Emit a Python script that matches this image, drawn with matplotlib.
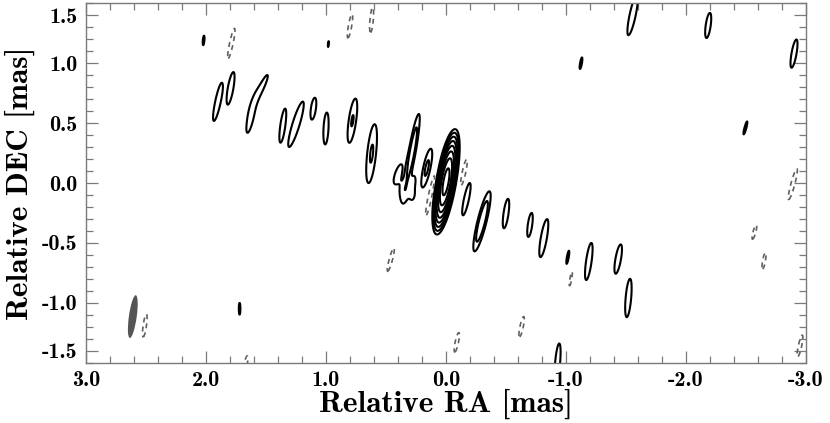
import numpy as np
import matplotlib
matplotlib.use("Agg")
import matplotlib.pyplot as plt
from matplotlib.patches import Ellipse

# clean components: RA [mas], DEC [mas], peak (in units of lowest contour),
# major / minor FWHM [mas], position angle [deg, N through E]
comp_ra = [2.02, 1.90, 1.795, 1.535, 1.625, 1.36, 1.25, 1.105, 1.00, 0.98,
           0.78, 0.62, 0.28, 0.27, 0.40, 0.36, 0.28, 0.16, 0.00, -0.17,
           -0.30, -0.50, -0.70, -0.815, -1.015, -1.19, -1.435, -1.52, -0.93,
           -1.555, -2.185, -1.125, -2.90, -2.495, 1.72]
comp_dec = [1.19, 0.68, 0.79, 0.80, 0.56, 0.48, 0.49, 0.62, 0.455, 1.16,
            0.52, 0.245, 0.27, 0.02, 0.08, -0.08, -0.08, 0.125, 0.01, -0.135,
            -0.32, -0.255, -0.35, -0.46, -0.62, -0.655, -0.635, -0.96, -1.50,
            1.40, 1.315, 1.00, 1.08, 0.46, -1.05]
comp_peak = [1.15, 1.8, 1.8, 1.6, 1.6, 1.8, 1.8, 1.8, 1.8, 1.08,
             2.1, 2.15, 3.2, 1.0, 1.3, 1.25, 1.2, 2.3, 180.0, 1.8,
             3.6, 1.8, 1.8, 1.8, 1.15, 1.8, 1.8, 1.8, 1.8,
             1.8, 1.8, 1.15, 1.8, 1.15, 1.15]
comp_maj = [0.18, 0.36, 0.30, 0.27, 0.35, 0.31, 0.43, 0.20, 0.29, 0.15,
            0.36, 0.47, 0.48, 0.10, 0.25, 0.20, 0.20, 0.30, 0.326, 0.30,
            0.38, 0.27, 0.22, 0.35, 0.25, 0.34, 0.27, 0.35, 0.35,
            0.37, 0.23, 0.22, 0.26, 0.25, 0.22]
comp_min = [0.03, 0.05, 0.05, 0.045, 0.06, 0.045, 0.065, 0.045, 0.045, 0.025,
            0.06, 0.07, 0.045, 0.035, 0.07, 0.08, 0.07, 0.055, 0.062, 0.045,
            0.055, 0.045, 0.04, 0.055, 0.035, 0.05, 0.05, 0.05, 0.045,
            0.055, 0.045, 0.035, 0.045, 0.035, 0.03]
comp_pa = [-5, -12, -10, -25, -12, -8, -17, -8, -3, -5,
           -8, -6, -10, -10, -20, 0, 0, -12, -10, -12,
           -14, -8, -8, -10, -10, -8, -10, -5, -5,
           -12, -8, -10, -10, -15, 0]

# negative (dashed) features
neg_ra = [1.79, 0.80, 0.62, 0.13, -0.15, 0.46, -1.04, -0.63, -0.09,
          -2.57, -2.65, -2.95, -2.89, 2.51, 1.67]
neg_dec = [1.16, 1.31, 1.36, -0.10, 0.09, -0.64, -0.80, -1.20, -1.33,
           -0.41, -0.65, -1.36, -0.01, -1.19, -1.52]
neg_peak = [-1.8, -1.8, -1.8, -1.8, -1.8, -1.8, -1.3, -1.8, -1.8,
            -1.6, -1.6, -1.8, -1.8, -1.8, -1.8]
neg_maj = [0.29, 0.22, 0.23, 0.38, 0.24, 0.22, 0.20, 0.19, 0.18,
           0.15, 0.17, 0.20, 0.29, 0.21, 0.17]
neg_min = [0.032, 0.03, 0.03, 0.035, 0.032, 0.03, 0.025, 0.03, 0.03,
           0.028, 0.028, 0.03, 0.035, 0.03, 0.028]
neg_pa = [-12, -10, -5, -12, -12, -15, -10, -12, -12,
          -15, -10, -12, -15, -8, -10]

levels_pos = [1, 2, 4, 8, 16, 32, 64, 128]
levels_neg = [-1]

# restoring beam
beam_ra, beam_dec = 2.61, -1.115
beam_maj, beam_min, beam_pa = 0.36, 0.065, -8

xticks = [3.0, 2.0, 1.0, 0.0, -1.0, -2.0, -3.0]
xticklabels = ["3.0", "2.0", "1.0", "0.0", "-1.0", "-2.0", "-3.0"]
yticks = [-1.4, -1.0, -0.5, 0.0, 0.5, 1.0, 1.4]
yticklabels = ["-1.5", "-1.0", "-0.5", "0.0", "0.5", "1.0", "1.5"]


def model_map(X, Y, ra, dec, peak, maj, mnr, pa):
    img = np.zeros_like(X)
    for r0, d0, p, a, b, th in zip(ra, dec, peak, maj, mnr, pa):
        t = np.deg2rad(th)
        dx = X - r0
        dy = Y - d0
        u = dx * np.sin(t) + dy * np.cos(t)
        v = dx * np.cos(t) - dy * np.sin(t)
        img += p * np.exp(-4 * np.log(2) * ((u / a) ** 2 + (v / b) ** 2))
    return img


x = np.linspace(-3.2, 3.2, 2001)
y = np.linspace(-1.7, 1.7, 1063)
X, Y = np.meshgrid(x, y)
img = model_map(X, Y, comp_ra + neg_ra, comp_dec + neg_dec,
                comp_peak + neg_peak, comp_maj + neg_maj,
                comp_min + neg_min, comp_pa + neg_pa)

plt.rcParams["font.family"] = "cmb10"
plt.rcParams["axes.unicode_minus"] = False

fig = plt.figure(figsize=(8.3, 4.23), dpi=100)
ax = fig.add_axes([86 / 830, 1 - 362.7 / 423, 720 / 830, 359.4 / 423])

ax.contour(X, Y, img, levels=levels_pos, colors="black", linewidths=1.5)
ax.contour(X, Y, img, levels=levels_neg, colors="#606060", linewidths=1.2,
           linestyles=[(0, (3.0, 2.5))])

ax.add_patch(Ellipse((beam_ra, beam_dec), width=beam_maj, height=beam_min,
                     angle=90 - beam_pa, facecolor="#555555", edgecolor="none"))

ax.set_xlim(3.0, -3.0)
ax.set_ylim(-1.5, 1.5)

ax.set_xticks(xticks)
ax.set_xticklabels(xticklabels)
ax.set_yticks(yticks)
ax.set_yticklabels(yticklabels)
ax.set_xticks(np.arange(-3.0, 3.01, 0.2), minor=True)
ax.set_yticks(np.arange(-1.5, 1.51, 0.1), minor=True)

gray = "#7a7a7a"
for s in ax.spines.values():
    s.set_color(gray)
    s.set_linewidth(1.0)
ax.tick_params(which="both", direction="in", top=True, right=True,
               color=gray, width=0.9, labelsize=16)
ax.tick_params(which="major", length=8.5, pad=6)
ax.tick_params(which="minor", length=5)

ax.set_xlabel("Relative RA [mas]", fontsize=22.5, labelpad=-1)
ax.set_ylabel("Relative DEC [mas]", fontsize=22.5, labelpad=5)

fig.savefig("out.png", dpi=100)
